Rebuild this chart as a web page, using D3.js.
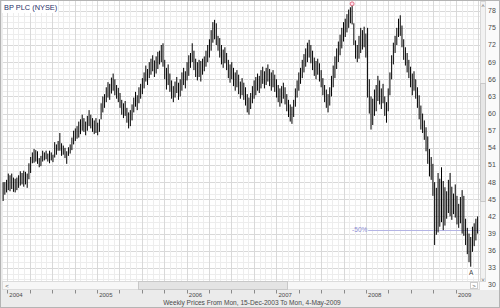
<!DOCTYPE html>
<html>
<head>
<meta charset="utf-8">
<script src="https://cdn.jsdelivr.net/npm/d3@7"></script>
<style>
body { margin: 0; background: #fff; }
svg { display: block; font-family: "Liberation Sans", Arial, sans-serif; }
</style>
</head>
<body>
<div id="chart"></div>
<script>
// weekly bars, first bar is week of Mon 15-Dec-2003
var firstWeek = "2003-12-15";
var highs = [
    48.0,48.0,48.4,49.5,49.2,49.5,48.8,48.6,48.8,49.2, 49.9,49.6,50.0,49.8,49.5,51.3,52.4,53.2,53.8,53.6,
    53.4,52.2,52.6,53.5,53.2,53.5,53.0,53.5,53.2,52.8, 55.0,54.6,55.2,56.6,54.8,54.4,54.0,53.4,54.1,54.6,
    55.8,57.0,57.4,57.8,58.6,59.0,59.8,59.2,58.6,59.6, 60.6,59.8,59.2,58.8,59.2,58.4,59.0,61.8,63.0,63.4,
    64.6,65.5,65.2,66.3,67.0,66.0,65.0,64.5,63.6,62.4, 61.8,62.2,61.0,60.2,60.6,61.6,62.8,63.8,63.2,64.6,
    65.2,66.2,67.2,68.4,67.8,69.0,69.6,70.2,69.3,70.0, 70.8,71.0,72.0,72.3,69.4,68.0,68.6,67.0,65.8,64.8,
    65.6,66.4,65.4,66.0,67.2,68.0,67.4,69.0,70.2,70.6, 72.3,71.0,69.6,69.0,69.4,69.2,69.6,70.0,71.0,72.0,
    73.0,74.6,76.0,76.4,75.8,73.6,73.2,72.0,71.2,71.6, 70.6,69.4,68.6,69.0,68.0,67.2,67.6,66.8,65.6,66.2,
    65.4,64.6,63.4,62.8,63.6,64.8,65.8,66.4,67.0,66.6, 67.6,68.2,67.4,68.0,68.6,67.8,67.2,67.6,66.8,66.0,
    65.0,64.4,64.8,65.4,64.6,63.4,62.4,61.6,61.2,62.4, 64.4,65.8,67.2,68.0,69.4,70.4,71.4,72.4,72.9,72.0,
    71.0,69.8,69.2,69.6,68.8,67.6,66.2,65.0,64.2,63.4, 64.6,66.6,68.4,70.0,71.4,72.6,73.8,75.0,76.0,76.6,
    77.4,78.2,78.6,79.2,75.8,72.8,72.0,73.6,75.0,74.6, 75.2,74.0,75.0,66.0,63.0,62.6,64.2,65.0,66.6,65.8,
    64.4,65.2,63.0,62.0,64.4,67.2,70.2,72.4,73.6,75.0, 76.6,77.2,75.4,73.0,71.6,70.6,69.4,68.2,67.0,67.4,
    66.0,64.6,63.2,61.4,60.0,58.8,57.6,56.0,53.8,52.4, 51.2,48.0,47.0,49.6,48.6,50.6,48.2,47.1,46.4,48.4,
    49.6,47.2,46.0,47.6,45.6,44.2,45.4,46.6,45.6,41.6, 40.0,39.0,38.4,40.2,40.8,41.6,42.0];
var lows = [
    44.7,45.8,46.2,46.6,46.4,46.8,46.3,46.2,46.6,47.0, 47.4,47.6,47.2,47.6,47.0,48.5,49.6,51.3,51.4,51.6,
    51.2,50.6,50.8,51.6,51.8,52.0,51.6,51.3,51.8,51.5, 52.3,52.8,53.5,53.5,52.6,52.8,52.2,51.2,52.6,53.0,
    53.6,54.6,55.2,55.6,55.8,56.4,57.0,56.8,56.2,57.0, 57.8,57.4,56.8,56.4,56.6,56.2,56.8,59.0,60.2,61.0,
    62.0,62.8,62.4,63.5,64.0,63.2,62.6,62.0,61.0,59.8, 59.2,59.6,58.4,57.4,57.8,58.8,60.2,61.2,60.6,61.8,
    62.6,63.4,64.4,65.6,65.0,66.2,66.8,67.4,66.4,67.0, 67.8,68.6,69.0,68.2,66.0,64.2,65.0,63.8,62.6,62.0,
    62.8,63.6,62.4,63.0,64.0,65.0,64.4,65.8,66.6,68.0, 69.0,67.6,66.4,65.8,66.4,65.6,66.8,67.4,68.2,69.0,
    69.8,71.0,72.4,73.0,72.0,71.0,69.8,68.6,68.0,68.8, 67.6,66.2,65.4,66.0,64.8,64.0,64.6,63.4,62.6,63.2,
    62.4,61.4,60.2,59.8,60.8,61.8,62.6,63.2,64.0,63.6, 64.4,65.2,64.4,65.0,65.6,64.8,64.0,64.6,63.8,62.8,
    62.0,61.2,61.8,62.6,61.6,60.4,59.4,58.6,58.2,59.4, 61.2,62.8,64.0,65.2,66.2,67.2,68.2,69.0,69.8,68.8,
    67.6,66.6,66.0,66.8,65.6,64.6,63.2,62.0,61.0,60.2, 61.4,63.0,64.6,66.2,67.8,69.0,70.2,71.4,72.6,73.4,
    74.2,75.0,75.8,75.6,72.0,69.6,69.0,69.6,70.6,71.2, 71.6,69.8,62.8,60.0,57.2,58.0,59.6,60.4,62.2,61.6,
    60.8,61.8,59.6,58.4,60.4,63.2,66.0,68.6,70.6,72.0, 73.4,73.6,71.6,69.4,68.4,67.2,66.2,64.6,63.2,64.0,
    62.6,61.0,59.0,57.2,56.6,55.4,53.4,51.2,49.0,48.4, 45.6,37.0,38.8,39.2,40.2,41.0,39.6,40.4,41.6,42.6,
    42.0,41.4,42.4,41.8,40.6,40.0,40.8,39.0,38.6,37.0, 35.4,34.0,33.2,35.8,36.8,37.8,39.0];
var priceTicks = [30,33,36,39,42,45,48,51,54,57,60,63,66,69,72,75,78];
var yearLabels = ["2004","2005","2006","2007","2008","2009"];
var title = "BP PLC (NYSE)";
var caption = "Weekly Prices From Mon, 15-Dec-2003 To Mon, 4-May-2009";
var dropLabel = "-50%";
var lowLabel = "A";

var width = 500, height = 308;
var plot = {left: 2, top: 1, right: 480, bottom: 281};

var parse = d3.timeParse("%Y-%m-%d");
var start = parse(firstWeek);
var bars = highs.map(function(h, i) {
    return {date: d3.timeDay.offset(start, 7 * i), high: h, low: lows[i]};
});

var x = d3.scaleTime()
    .domain([new Date(2004, 0, 1), new Date(2009, 0, 1)])
    .range([7.3, 456]);
var y = d3.scaleLinear()
    .domain([30, 78])
    .range([285, 10.7]);

var svg = d3.select("#chart").append("svg")
    .attr("width", width)
    .attr("height", height);

// frame backgrounds
svg.append("rect").attr("x", 0).attr("y", 0).attr("width", width).attr("height", height)
    .attr("fill", "#ebebeb");
svg.append("rect").attr("x", plot.right).attr("y", 0).attr("width", width - plot.right).attr("height", 290)
    .attr("fill", "#fafafa");
svg.append("rect").attr("x", plot.left).attr("y", plot.top)
    .attr("width", plot.right - plot.left).attr("height", plot.bottom - plot.top)
    .attr("fill", "#fff");

svg.append("clipPath").attr("id", "clip").append("rect")
    .attr("x", plot.left).attr("y", plot.top)
    .attr("width", plot.right - plot.left).attr("height", plot.bottom - plot.top);

var grid = svg.append("g").attr("clip-path", "url(#clip)");

// horizontal grid, one line per dollar, darker on labelled ones
grid.selectAll(".hgrid")
    .data(d3.range(29, 81))
    .enter().append("line")
    .attr("x1", plot.left).attr("x2", plot.right)
    .attr("y1", function(d) { return Math.round(y(d)) + 0.5; })
    .attr("y2", function(d) { return Math.round(y(d)) + 0.5; })
    .attr("stroke", function(d) { return d % 3 === 0 ? "#d9d9d9" : "#ededed"; });

// vertical grid, quarters with three sub lines
var quarters = d3.timeMonth.every(3).range(new Date(2003, 9, 1), new Date(2009, 6, 1));
var subLines = [];
quarters.forEach(function(q) {
    var q2 = d3.timeMonth.offset(q, 3);
    for (var k = 0; k < 4; k++) {
        subLines.push({date: new Date(+q + (q2 - q) * k / 4), major: k === 0});
    }
});
grid.selectAll(".vgrid")
    .data(subLines)
    .enter().append("line")
    .attr("x1", function(d) { return Math.round(x(d.date)) + 0.5; })
    .attr("x2", function(d) { return Math.round(x(d.date)) + 0.5; })
    .attr("y1", plot.top).attr("y2", plot.bottom)
    .attr("stroke", function(d) { return d.major ? "#d9d9d9" : "#ededed"; });

// price bars
var marks = svg.append("g").attr("clip-path", "url(#clip)");

var peak = bars.reduce(function(a, b) { return b.high > a.high ? b : a; });
var bottom = bars.reduce(function(a, b) { return b.low < a.low ? b : a; });

// -50% from the peak
var half = peak.high * 0.5;
marks.append("line")
    .attr("x1", x(peak.date) + 16).attr("x2", plot.right)
    .attr("y1", Math.round(y(half)) + 0.5).attr("y2", Math.round(y(half)) + 0.5)
    .attr("stroke", "#b4b4e4");
marks.append("text")
    .attr("x", x(peak.date)).attr("y", y(half) + 2)
    .attr("font-size", 6.5).attr("fill", "#8c8cd4")
    .text(dropLabel);

marks.selectAll(".bar")
    .data(bars)
    .enter().append("line")
    .attr("x1", function(d) { return x(d.date); })
    .attr("x2", function(d) { return x(d.date); })
    .attr("y1", function(d) { return y(d.high); })
    .attr("y2", function(d) { return y(d.low); })
    .attr("stroke", "#000")
    .attr("stroke-width", 1);

marks.append("circle")
    .attr("cx", x(peak.date)).attr("cy", y(peak.high))
    .attr("r", 2)
    .attr("fill", "#fde")
    .attr("stroke", "#e07080");

marks.append("rect")
    .attr("x", x(bottom.date) - 3).attr("y", y(bottom.low) + 2)
    .attr("width", 7).attr("height", 8).attr("fill", "#fff");
marks.append("text")
    .attr("x", x(bottom.date) + 0.5).attr("y", y(bottom.low) + 8.5)
    .attr("text-anchor", "middle")
    .attr("font-size", 6.5).attr("fill", "#444")
    .text(lowLabel);

// title box
svg.append("rect").attr("x", plot.left).attr("y", plot.top).attr("width", 56).attr("height", 12)
    .attr("fill", "#fff");
svg.append("text").attr("x", 4).attr("y", 10)
    .attr("font-size", 7.4).attr("fill", "#1f2f66")
    .text(title);

// vertical scroll bar
var vs = svg.append("g");
vs.append("rect").attr("x", 480.5).attr("y", 1.5).attr("width", 5).attr("height", 280)
    .attr("fill", "#f2f2f2").attr("stroke", "#d8d8d8");
vs.append("rect").attr("x", 480.5).attr("y", 83.5).attr("width", 5).attr("height", 118)
    .attr("fill", "#e6e6e6").attr("stroke", "#c8c8c8");
vs.append("text").attr("x", 483).attr("y", 8).attr("font-size", 6).attr("text-anchor", "middle")
    .attr("fill", "#555").text("\u02c4");
vs.append("text").attr("x", 483).attr("y", 282).attr("font-size", 6).attr("text-anchor", "middle")
    .attr("fill", "#555").text("\u02c5");

// horizontal scroll bar
var hs = svg.append("g");
hs.append("rect").attr("x", 2.5).attr("y", 281.5).attr("width", 477).attr("height", 8)
    .attr("fill", "#f7f7f7").attr("stroke", "#dcdcdc");
hs.append("rect").attr("x", 138.5).attr("y", 281.5).attr("width", 149).attr("height", 8)
    .attr("fill", "#e4e4e4").attr("stroke", "#c8c8c8");
hs.append("text").attr("x", 7).attr("y", 288).attr("font-size", 6).attr("text-anchor", "middle")
    .attr("fill", "#555").text("\u02c2");
hs.append("rect").attr("x", 470.5).attr("y", 282.5).attr("width", 7).attr("height", 6)
    .attr("fill", "#fff").attr("stroke", "#ccc");
hs.append("text").attr("x", 474).attr("y", 288).attr("font-size", 6).attr("text-anchor", "middle")
    .attr("fill", "#555").text("\u02c3");

// price axis on the right
svg.append("g").selectAll("text")
    .data(priceTicks)
    .enter().append("text")
    .attr("x", 488).attr("y", function(d) { return y(d); })
    .attr("dy", "0.35em")
    .attr("font-size", 7).attr("fill", "#4a4a4a")
    .text(function(d) { return d; });

// date axis at the bottom
var axisY = 290;
var tickDates = d3.timeMonth.every(3).range(new Date(2004, 0, 1), new Date(2009, 3, 1));
svg.append("g").selectAll("line")
    .data(tickDates)
    .enter().append("line")
    .attr("x1", function(d) { return Math.round(x(d)) + 0.5; })
    .attr("x2", function(d) { return Math.round(x(d)) + 0.5; })
    .attr("y1", axisY).attr("y2", axisY + 3.5)
    .attr("stroke", "#8a8a8a");
svg.append("g").selectAll("text")
    .data(yearLabels)
    .enter().append("text")
    .attr("x", function(d) { return x(new Date(+d, 0, 1)) + 2; })
    .attr("y", axisY + 6.5)
    .attr("font-size", 6).attr("fill", "#4a4a4a")
    .text(function(d) { return d; });

svg.append("text")
    .attr("x", 252).attr("y", 305)
    .attr("text-anchor", "middle")
    .attr("font-size", 6.6).attr("fill", "#4a4a4a")
    .text(caption);

// outer frame
svg.append("rect").attr("x", 0.5).attr("y", 0.5).attr("width", width - 1).attr("height", height - 1)
    .attr("fill", "none").attr("stroke", "#b4b4b4");
</script>
</body>
</html>
